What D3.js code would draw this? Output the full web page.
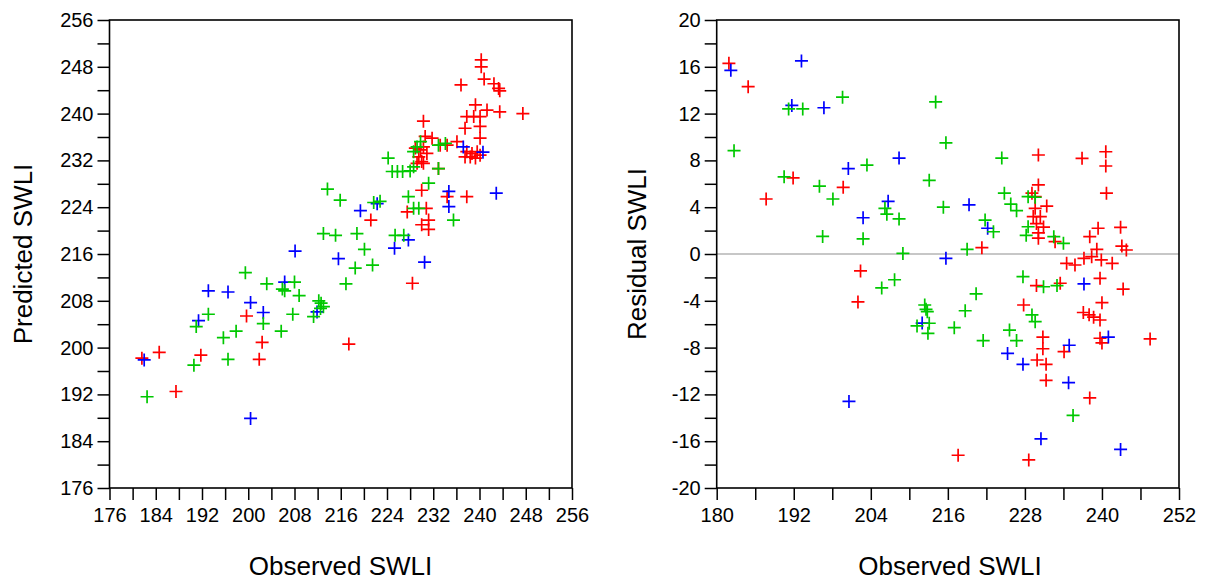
<!DOCTYPE html>
<html><head><meta charset="utf-8">
<script src="https://cdn.jsdelivr.net/npm/d3@7"></script>
<style>
html,body{margin:0;padding:0;background:#fff;}
svg{display:block;}
text{font-family:"Liberation Sans",Arial,sans-serif;fill:#000;}
</style></head><body>
<svg id="chart" width="1211" height="582"></svg>
<script>
// ---------- data: left panel (Observed vs Predicted) ----------
const redObsL = [181.6,184.6,187.5,191.8,199.7,201.9,202.4,217.4,221.2,227.5,228.4,230.0,230.8,231.2,230.0,231.2,230.3,230.6,231.8,233.2,234.4,236.1,228.9,229.8,230.3,230.9,229.5,230.0,229.2,230.3,232.9,234.4,237.8,237.8,238.7,239.6,237.5,238.4,239.3,240.1,240.1,237.5,240.1,237.8,239.0,240.1,239.3,241.3,236.8,240.3,240.3,240.8,242.5,243.3,243.5,243.5,247.5];
const redPredL = [198.2,199.2,192.5,198.7,205.4,198.0,200.9,200.6,221.8,223.2,211.0,226.9,223.8,221.8,221.0,220.2,238.7,236.1,235.8,234.6,234.6,235.2,234.1,233.8,234.3,233.2,232.6,231.8,231.5,231.5,230.6,225.8,225.8,233.5,233.2,233.5,232.6,232.6,232.4,232.9,235.8,237.5,237.8,239.5,239.5,239.5,241.5,240.6,244.9,249.2,248.0,245.9,245.1,244.3,243.9,240.3,240.0];
const greenObsL = [182.5,190.6,191.0,193.1,195.7,196.5,197.9,199.5,202.6,203.2,205.7,205.9,206.3,208.0,207.7,208.8,211.3,212.2,212.6,213.0,212.5,213.0,213.7,215.1,215.9,216.9,218.5,218.8,220.1,221.5,221.7,222.8,224.2,224.9,225.8,226.7,228.0,228.6,225.4,226.9,227.7,228.6,229.5,231.2,232.9,228.6,229.2,229.8,232.9,234.1,235.5];
const greenPredL = [191.6,197.0,203.6,205.7,201.7,198.0,202.8,212.8,204.1,210.9,202.8,210.0,209.7,211.2,205.7,208.9,205.3,208.0,207.6,207.0,206.7,219.5,227.1,219.2,225.2,210.9,213.6,219.5,216.8,214.1,224.8,225.0,232.4,230.1,230.1,230.1,230.2,230.9,219.2,219.2,225.8,223.8,223.8,228.1,230.6,233.5,234.3,235.2,234.6,234.9,221.8];
const blueObsL = [182.0,191.4,193.1,196.5,200.4,200.4,202.6,206.3,208.1,211.9,215.6,219.4,222.3,225.3,227.7,230.5,234.7,234.7,237.2,240.6,242.9];
const bluePredL = [197.9,204.6,209.7,209.5,207.7,187.9,206.0,211.2,216.5,206.1,215.2,223.4,224.6,217.0,218.4,214.6,226.7,224.1,234.3,233.4,226.4];

// ---------- data: right panel (Observed vs Residual) ----------
const redObsR = [181.9,184.9,187.7,191.9,199.7,202.4,202.0,217.6,221.3,227.8,228.6,230.1,230.1,229.1,229.6,229.6,231.4,229.3,230.4,229.8,230.9,230.1,230.1,232.7,229.8,233.5,230.8,230.8,229.9,231.3,231.3,234.1,236.9,240.6,240.6,240.7,238.1,239.4,242.9,243.1,243.8,239.2,234.5,235.8,237.2,238.4,239.9,241.6,239.7,243.3,240.0,237.1,238.0,238.7,239.7,239.7,240.0,238.1,247.5];
const redResR = [16.3,14.3,4.7,6.5,5.7,-1.45,-4.1,-17.2,0.54,-4.36,-17.6,8.46,5.9,5.2,4.9,3.9,4.1,3.2,3.2,2.6,2.3,1.8,1.35,1.05,-2.7,-2.5,-7.1,-8.1,-9.06,-9.43,-10.8,-8.35,8.18,8.74,7.52,5.2,1.48,2.2,2.28,0.68,0.34,0.4,-0.8,-0.94,-0.37,-0.23,-0.51,-0.8,-2.08,-3.0,-4.16,-5.0,-5.2,-5.4,-5.64,-7.2,-7.6,-12.3,-7.26];
const greenObsR = [182.7,191.2,193.4,199.6,214.1,215.7,213.1,215.3,203.4,190.5,196.0,198.1,206.2,206.5,208.4,196.5,202.8,209.0,205.7,207.7,212.4,212.6,212.8,213.1,212.9,211.2,217.0,224.4,224.8,228.5,229.6,225.8,226.7,221.8,223.1,228.5,228.2,232.5,234.0,219.0,227.7,230.9,233.0,220.4,218.7,229.1,229.6,221.5,225.6,226.7,235.5];
const greenResR = [8.83,12.4,12.4,13.4,13.0,9.5,6.3,4.0,7.6,6.6,5.8,4.7,3.9,3.4,3.0,1.5,1.3,0.05,-2.9,-2.2,-4.36,-4.73,-4.93,-5.92,-6.78,-6.15,-6.3,8.2,5.2,4.9,4.85,4.27,3.7,2.9,1.9,2.33,1.6,1.48,0.91,0.4,-1.94,-2.8,-2.7,-3.4,-4.85,-5.21,-5.78,-7.4,-6.5,-7.4,-13.8];
const blueObsR = [182.2,193.2,191.7,196.7,208.4,200.5,206.7,202.8,215.7,200.6,212.0,219.3,222.2,237.2,241.0,225.3,227.7,234.9,234.8,230.5,242.9];
const blueResR = [15.7,16.5,12.7,12.5,8.2,7.3,4.5,3.1,-0.37,-12.6,-5.9,4.2,2.2,-2.56,-7.1,-8.5,-9.43,-7.8,-11.0,-15.8,-16.7];

// ---------- ticks ----------
const swliTicks = [176,180,184,188,192,196,200,204,208,212,216,220,224,228,232,236,240,244,248,252,256];
const swliLabels = [176,184,192,200,208,216,224,232,240,248,256];
const obsRTicks = [180,186,192,198,204,210,216,222,228,234,240,246,252];
const obsRLabels = [180,192,204,216,228,240,252];
const resTicks = [-20,-18,-16,-14,-12,-10,-8,-6,-4,-2,0,2,4,6,8,10,12,14,16,18,20];
const resLabels = [-20,-16,-12,-8,-4,0,4,8,12,16,20];

const colors = {red:"#ff0000", green:"#00c800", blue:"#0000ff"};

const svg = d3.select("#chart");

function panel(opt){
  const {x, y, xTicks, xLabels, yTicks, yLabels, series, xTitle, yTitle, yTitleX, xTitleX, zero} = opt;
  const g = svg.append("g");
  const [x0,x1] = x.range(), [y0,y1] = y.range();

  if (zero) {
    g.append("line").attr("x1",x0).attr("x2",x1).attr("y1",y(0)).attr("y2",y(0))
      .attr("stroke","#b4b4b4").attr("stroke-width",1.6);
  }

  const xa = d3.axisBottom(x).tickValues(xTicks).tickSize(12).tickSizeOuter(0).tickPadding(8)
    .tickFormat(d => xLabels.includes(d) ? String(d) : "");
  const ya = d3.axisLeft(y).tickValues(yTicks).tickSize(12).tickSizeOuter(0).tickPadding(4)
    .tickFormat(d => yLabels.includes(d) ? String(d) : "");

  const gx = g.append("g").attr("transform",`translate(0,${y0})`).call(xa);
  const gy = g.append("g").attr("transform",`translate(${x0},0)`).call(ya);
  [gx,gy].forEach(a=>{
    a.select(".domain").remove();
    a.selectAll(".tick line").attr("stroke","#000").attr("stroke-width",1.5);
    a.selectAll(".tick text").attr("font-size",20).attr("font-family","Liberation Sans, Arial, sans-serif").attr("fill","#000");
  });

  g.append("rect").attr("x",x0).attr("y",y1).attr("width",x1-x0).attr("height",y0-y1)
    .attr("fill","none").attr("stroke","#000").attr("stroke-width",1.6);

  const cross = "M-6.5,0H6.5M0,-6.5V6.5";
  series.forEach(s=>{
    g.append("g").selectAll("path").data(s.xs.map((v,i)=>[v,s.ys[i]])).join("path")
      .attr("d",cross).attr("transform",d=>`translate(${x(d[0])},${y(d[1])})`)
      .attr("stroke",s.color).attr("stroke-width",1.7).attr("fill","none");
  });

  g.append("text").attr("x",xTitleX).attr("y",575).attr("text-anchor","middle")
    .attr("font-size",26).text(xTitle);
  g.append("text").attr("transform",`translate(${yTitleX},254) rotate(-90)`)
    .attr("text-anchor","middle").attr("font-size",26).text(yTitle);
}

// Left panel
const xL = d3.scaleLinear().domain([176,256]).range([109.5,572]);
const yL = d3.scaleLinear().domain([176,256]).range([488,20]);
panel({x:xL, y:yL, xTicks:swliTicks, xLabels:swliLabels, yTicks:swliTicks, yLabels:swliLabels,
  series:[{xs:redObsL,ys:redPredL,color:colors.red},{xs:blueObsL,ys:bluePredL,color:colors.blue},{xs:greenObsL,ys:greenPredL,color:colors.green}],
  xTitle:"Observed SWLI", yTitle:"Predicted SWLI", xTitleX:340.5, yTitleX:32, zero:false});

// Right panel
const xR = d3.scaleLinear().domain([180,252]).range([716.7,1179]);
const yR = d3.scaleLinear().domain([-20,20]).range([488,20]);
panel({x:xR, y:yR, xTicks:obsRTicks, xLabels:obsRLabels, yTicks:resTicks, yLabels:resLabels,
  series:[{xs:redObsR,ys:redResR,color:colors.red},{xs:blueObsR,ys:blueResR,color:colors.blue},{xs:greenObsR,ys:greenResR,color:colors.green}],
  xTitle:"Observed SWLI", yTitle:"Residual SWLI", xTitleX:950, yTitleX:646, zero:true});
</script>
</body></html>
